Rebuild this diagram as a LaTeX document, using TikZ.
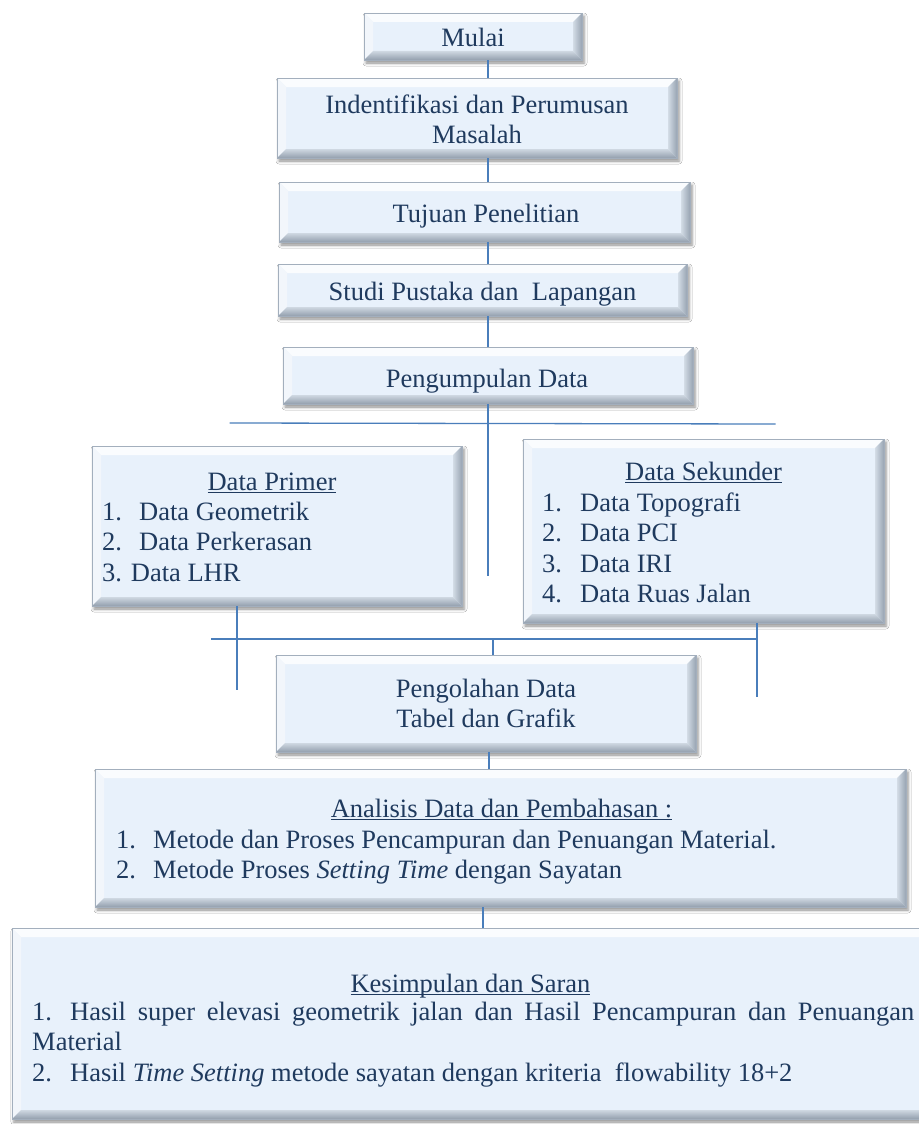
\documentclass[tikz,border=0pt]{standalone}
\usepackage{fontspec}
\setmainfont{Liberation Serif}
\usetikzlibrary{shadows.blur}
\definecolor{facec}{HTML}{E8F1FB}
\definecolor{edgec}{HTML}{A3AFBD}
\definecolor{txtc}{HTML}{1F3A5E}
\definecolor{linec}{HTML}{4A7EBB}
\definecolor{bevtopc}{HTML}{FAFCFE}
\definecolor{bevleftc}{HTML}{F2F6FB}
\definecolor{bevrightin}{HTML}{D3DCE6}
\definecolor{bevrightout}{HTML}{98A4B2}
\definecolor{bevbotin}{HTML}{CFD8E2}
\definecolor{bevbotout}{HTML}{939FAD}
\newcommand\bv{9pt}
\newcommand\myul[1]{\setbox0=\hbox{#1}\rlap{\rule[-3pt]{\wd0}{1.1pt}}\box0}
\begin{document}
\begin{tikzpicture}[x=1pt,y=-1pt,
  bevelbox/.style={fill=facec, draw=edgec, line width=0.5pt, inner sep=0pt,
    blur shadow={shadow xshift=2pt, shadow yshift=-3pt, shadow blur radius=3pt, shadow opacity=45},
    path picture={
      \path (path picture bounding box.north west) coordinate (bNW)
            (path picture bounding box.north east) coordinate (bNE)
            (path picture bounding box.south west) coordinate (bSW)
            (path picture bounding box.south east) coordinate (bSE);
      \fill[bevtopc] (bNW) -- (bNE) -- ([shift={(-\bv,-\bv)}]bNE) -- ([shift={(\bv,-\bv)}]bNW) -- cycle;
      \fill[bevleftc] (bNW) -- ([shift={(\bv,-\bv)}]bNW) -- ([shift={(\bv,\bv)}]bSW) -- (bSW) -- cycle;
      \shade[left color=bevrightin, right color=bevrightout] (bNE) -- ([shift={(-\bv,-\bv)}]bNE) -- ([shift={(-\bv,\bv)}]bSE) -- (bSE) -- cycle;
      \shade[top color=bevbotin, bottom color=bevbotout] (bSW) -- ([shift={(\bv,\bv)}]bSW) -- ([shift={(-\bv,\bv)}]bSE) -- (bSE) -- cycle;
    }},
  txt/.style={text=txtc, inner sep=0pt, font=\fontsize{26.5pt}{30.5pt}\selectfont},
  conn/.style={draw=linec, line width=1.3pt}]
\useasboundingbox (0,0) rectangle (918,1124);
\fill[white] (0,0) rectangle (918,1124);

% boxes
\node[bevelbox, minimum width=218pt, minimum height=47pt] (mulai) at (473,36.5) {};
\node[bevelbox, minimum width=400pt, minimum height=80pt] (ident) at (477,118) {};
\node[bevelbox, minimum width=411pt, minimum height=60pt] (tujuan) at (484.5,212) {};
\node[bevelbox, minimum width=409pt, minimum height=52pt] (studi) at (482.5,290) {};
\node[bevelbox, minimum width=410pt, minimum height=57pt] (kumpul) at (488,375.5) {};
\node[bevelbox, minimum width=370pt, minimum height=160pt] (primer) at (277,526) {};
\node[bevelbox, minimum width=361pt, minimum height=184pt] (sekunder) at (703.5,531) {};
\node[bevelbox, minimum width=420pt, minimum height=97pt] (olah) at (486,703.5) {};
\node[bevelbox, minimum width=811pt, minimum height=138pt] (analisis) at (500.5,838) {};
\node[bevelbox, minimum width=918pt, minimum height=191pt] (simpul) at (471,1023.5) {};

% connectors
\coordinate (sp) at (488,0);
\draw[conn] (sp |- mulai.south) -- (sp |- ident.north);
\draw[conn] (sp |- ident.south) -- (sp |- tujuan.north);
\draw[conn] (sp |- tujuan.south) -- (sp |- studi.north);
\draw[conn] (sp |- studi.south) -- (sp |- kumpul.north);
\coordinate (spend) at (488,576);
\draw[conn] (sp |- kumpul.south) -- (spend);
\coordinate (hl) at (229.5,423);
\coordinate (hr) at (775.5,424);
\draw[conn] (hl) -- (hr);
\coordinate (pdrop) at (237,690);
\draw[conn] (primer.south -| pdrop) -- (pdrop);
\coordinate (sdrop) at (757,697);
\draw[conn] (sekunder.south -| sdrop) -- (sdrop);
\coordinate (ll) at (211,639);
\coordinate (lr) at (757,639);
\draw[conn] (ll) -- (lr);
\coordinate (mj) at (493,639);
\draw[conn] (mj) -- (mj |- olah.north);
\coordinate (c2) at (489,0);
\draw[conn] (c2 |- olah.south) -- (c2 |- analisis.north);
\coordinate (c3) at (483,0);
\draw[conn] (c3 |- analisis.south) -- (c3 |- simpul.north);

% texts
\node[txt, anchor=base] (tmulai) at (473,47) {Mulai};
\node[txt, anchor=base] (tident) at (477,113) {\begin{tabular}[t]{@{}c@{}}Indentifikasi dan Perumusan\\Masalah\end{tabular}};
\node[txt, anchor=base] (ttujuan) at (486,222) {Tujuan Penelitian};
\node[txt, anchor=base] (tstudi) at (482.5,300) {Studi Pustaka dan\ \ Lapangan};
\node[txt, anchor=base] (tkumpul) at (487,387) {Pengumpulan Data};

\node[txt, anchor=base] (tprimhead) at (272,490) {\myul{Data Primer}};
\node[txt, anchor=base west] (tprimlist) at (102,520) {\begin{tabular}[t]{@{}p{37pt}@{}l@{}}1.&Data Geometrik\\2.&Data Perkerasan\\\multicolumn{2}{@{}l@{}}{3. Data LHR}\end{tabular}};

\node[txt, anchor=base] (tsekhead) at (703.5,480) {\myul{Data Sekunder}};
\node[txt, anchor=base west] (tseklist) at (542,511) {\begin{tabular}[t]{@{}p{38pt}@{}l@{}}1.&Data Topografi\\2.&Data PCI\\3.&Data IRI\\4.&Data Ruas Jalan\end{tabular}};

\node[txt, anchor=base] (tolah) at (486,697) {\begin{tabular}[t]{@{}c@{}}Pengolahan Data\\Tabel dan Grafik\end{tabular}};

\node[txt, anchor=base] (tanahead) at (501.5,817) {\myul{Analisis Data dan Pembahasan :}};
\node[txt, anchor=base west] (tanalist) at (116,848) {\begin{tabular}[t]{@{}p{37pt}@{}l@{}}1.&Metode dan Proses Pencampuran dan Penuangan Material.\\2.&Metode Proses \textit{Setting Time} dengan Sayatan\end{tabular}};

\node[txt, anchor=base] (tsimhead) at (470.5,992) {\myul{Kesimpulan dan Saran}};
\node[txt, anchor=base west] (tsimlist) at (32,1020) {\begin{tabular}[t]{@{}p{38pt}@{}l@{}}1.&\makebox[844pt][s]{Hasil super elevasi geometrik jalan dan Hasil Pencampuran dan Penuangan}\\\multicolumn{2}{@{}l@{}}{Material}\\2.&Hasil \textit{Time Setting} metode sayatan dengan kriteria\ \ flowability 18+2\end{tabular}};
\end{tikzpicture}
\end{document}
